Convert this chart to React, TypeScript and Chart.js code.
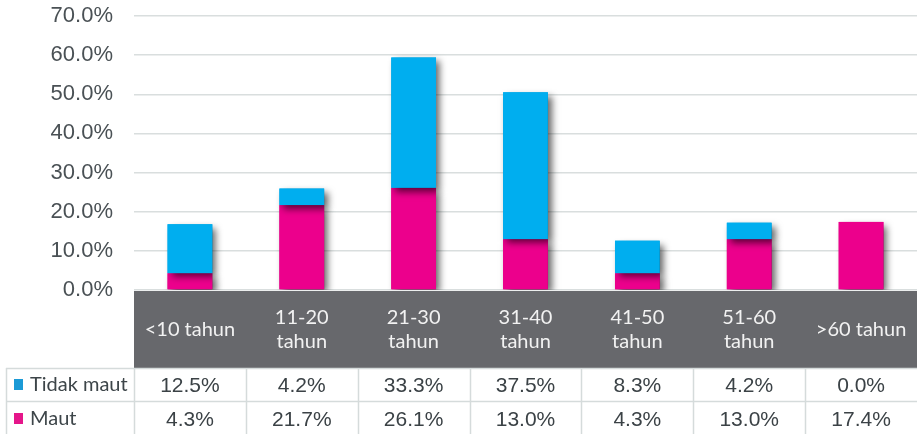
import React, { useEffect, useRef } from "react";
import { Chart, registerables } from "chart.js";

Chart.register(...registerables);

const categories: string[][] = [
  ["<10 tahun"],
  ["11-20", "tahun"],
  ["21-30", "tahun"],
  ["31-40", "tahun"],
  ["41-50", "tahun"],
  ["51-60", "tahun"],
  [">60 tahun"],
];
const tidakMaut = [12.5, 4.2, 33.3, 37.5, 8.3, 4.2, 0.0];
const maut = [4.3, 21.7, 26.1, 13.0, 4.3, 13.0, 17.4];
const seriesNames = ["Tidak maut", "Maut"];
const yTicks = { min: 0, max: 70, step: 10 };

const CYAN = "#00AEEF";
const MAGENTA = "#EC008C";

// redraw bars bottom-to-top with a soft drop shadow
const shadowPlugin = {
  id: "barShadow",
  afterDatasetsDraw(chart: any) {
    const ctx = chart.ctx;
    const area = chart.chartArea;
    ctx.save();
    ctx.beginPath();
    ctx.rect(area.left, 0, area.right - area.left + 10, area.bottom);
    ctx.clip();
    chart.data.datasets.forEach((ds: any, di: number) => {
      const meta = chart.getDatasetMeta(di);
      meta.data.forEach((el: any) => {
        const top = Math.min(el.y, el.base);
        const h = Math.abs(el.base - el.y);
        if (h < 0.5) return;
        ctx.save();
        ctx.shadowColor = "rgba(0,0,0,0.6)";
        ctx.shadowBlur = 7;
        ctx.shadowOffsetX = 4;
        ctx.shadowOffsetY = 4;
        ctx.fillStyle = ds.backgroundColor;
        ctx.fillRect(el.x - el.width / 2, top, el.width, h);
        ctx.restore();
      });
    });
    ctx.restore();
  },
};

const tablePlugin = {
  id: "dataTable",
  afterDraw(chart: any) {
    const ctx = chart.ctx;
    const x = chart.scales.x;
    const area = chart.chartArea;
    const n = categories.length;
    const colW = (area.right - area.left) / n;
    const bandTop = area.bottom + 1;
    const bandBottom = 368;
    const rowMid = 401.5;
    const bottom = 434;
    ctx.save();
    // band
    ctx.fillStyle = "#67686c";
    ctx.fillRect(area.left, bandTop, area.right - area.left, bandBottom - bandTop);
    // category labels
    ctx.fillStyle = "#f2f2f2";
    ctx.font = "20px Lato";
    ctx.textAlign = "center";
    ctx.textBaseline = "middle";
    const bandMid = (bandTop + bandBottom) / 2;
    categories.forEach((lines, i) => {
      const cx = x.getPixelForValue(i);
      const lh = 24;
      const start = bandMid - ((lines.length - 1) * lh) / 2;
      lines.forEach((l, j) => ctx.fillText(l, cx, start + j * lh));
    });
    // table lines
    ctx.strokeStyle = "#d5dbdb";
    ctx.lineWidth = 1.5;
    ctx.beginPath();
    ctx.moveTo(6, bandBottom + 0.5);
    ctx.lineTo(area.right, bandBottom + 0.5);
    ctx.moveTo(6, rowMid);
    ctx.lineTo(area.right, rowMid);
    ctx.moveTo(6.5, bandBottom);
    ctx.lineTo(6.5, bottom);
    for (let i = 0; i < n; i++) {
      const lx = Math.round(area.left + i * colW) + 0.5;
      ctx.moveTo(lx, bandBottom);
      ctx.lineTo(lx, bottom);
    }
    ctx.stroke();
    // legend cells
    const rows = [
      { name: seriesNames[0], color: "#1b9ad6", vals: tidakMaut, y: 385 },
      { name: seriesNames[1], color: "#e5168a", vals: maut, y: 419 },
    ];
    rows.forEach((r) => {
      ctx.fillStyle = r.color;
      ctx.fillRect(14, r.y - 6, 9, 11);
      ctx.fillStyle = "#3d4549";
      ctx.font = "20px Lato";
      ctx.textAlign = "left";
      ctx.fillText(r.name, 30, r.y);
      ctx.font = "21px 'Liberation Sans', Arial";
      ctx.textAlign = "center";
      ctx.fillStyle = "#3b4246";
      r.vals.forEach((v, i) => {
        ctx.fillText(v.toFixed(1) + "%", x.getPixelForValue(i), r.y + 1);
      });
    });
    ctx.restore();
  },
};

export default function App() {
  const ref = useRef<HTMLCanvasElement>(null);
  useEffect(() => {
    document.body.style.margin = "0";
    const chart = new Chart(ref.current!, {
      type: "bar",
      data: {
        labels: categories.map((c) => c.join(" ")),
        datasets: [
          { label: seriesNames[1], data: maut, backgroundColor: MAGENTA },
          { label: seriesNames[0], data: tidakMaut, backgroundColor: CYAN },
        ],
      },
      options: {
        animation: false,
        responsive: false,
        maintainAspectRatio: false,
        layout: { padding: { top: 16, bottom: 144, left: 0, right: 0 } },
        datasets: { bar: { barPercentage: 0.4, categoryPercentage: 1 } },
        plugins: { legend: { display: false }, tooltip: { enabled: false } },
        scales: {
          x: { stacked: true, display: false },
          y: {
            stacked: true,
            min: yTicks.min,
            max: yTicks.max,
            ticks: {
              stepSize: yTicks.step,
              padding: 21,
              color: "#4a5155",
              font: { family: "'Liberation Sans', Arial", size: 22 },
              callback: (v: any) => Number(v).toFixed(1) + "%",
            },
            grid: { color: "#d9dede", lineWidth: 1.5, drawTicks: false },
            border: { display: false },
            afterFit: (s: any) => {
              s.width = 134;
              s.paddingTop = 0;
              s.paddingBottom = 0;
            },
          },
        },
      },
      plugins: [shadowPlugin, tablePlugin],
    });
    return () => chart.destroy();
  }, []);
  return (
    <div style={{ position: "absolute", left: 0, top: 0, width: 917, height: 434 }}>
      <canvas ref={ref} width={917} height={434} />
    </div>
  );
}
